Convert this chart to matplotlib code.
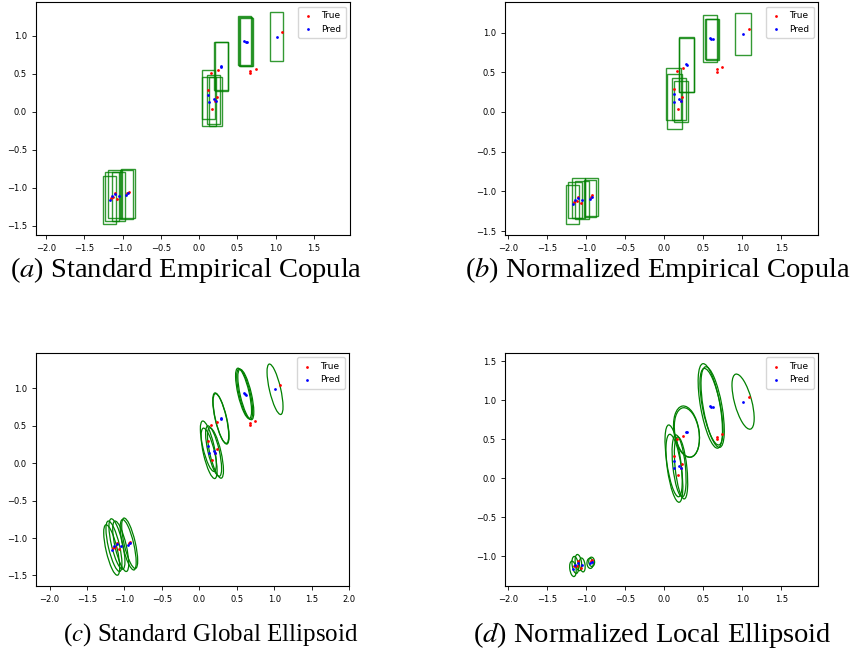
import matplotlib
matplotlib.use('Agg')
import matplotlib.pyplot as plt
from matplotlib.patches import Rectangle, Ellipse

plt.rcParams['mathtext.fontset'] = 'stix'

# ground truth and predicted points (same test set in every panel)
true_x = [1.08, 0.74, 0.67, 0.67, 0.24, 0.16, 0.12, 0.17, 0.23, 0.21,
          -1.15, -1.12, -1.10, -1.07, -0.94, -0.92]
true_y = [1.045, 0.565, 0.535, 0.505, 0.55, 0.51, 0.29, 0.04, 0.19, 0.135,
          -1.13, -1.12, -1.065, -1.15, -1.065, -1.05]
pred_x = [1.01, 0.59, 0.62, 0.605, 0.285, 0.29, 0.12, 0.13, 0.19, 0.215,
          -1.17, -1.14, -1.10, -1.05, -0.95, -0.93]
pred_y = [0.985, 0.93, 0.915, 0.92, 0.60, 0.59, 0.225, 0.13, 0.16, 0.135,
          -1.16, -1.11, -1.08, -1.11, -1.09, -1.07]

# (a) standard copula: one box size for all
box_w_a = 0.175
box_h_a = 0.64

# (b) normalized copula: box size per prediction
box_w_b = [0.20, 0.183, 0.17, 0.162, 0.20, 0.19, 0.19, 0.19, 0.17, 0.17,
           0.166, 0.18, 0.175, 0.183, 0.162, 0.16]
box_h_b = [0.53, 0.59, 0.51, 0.51, 0.70, 0.68, 0.66, 0.69, 0.53, 0.51,
           0.49, 0.46, 0.50, 0.47, 0.47, 0.47]

# (c) standard global ellipsoid
ell_w_c = 0.15
ell_h_c = 0.69
ell_ang_c = 13

# (d) normalized local ellipsoid
ell_w_d = [0.22, 0.25, 0.24, 0.23, 0.32, 0.31, 0.18, 0.18, 0.16, 0.15,
           0.08, 0.08, 0.08, 0.07, 0.08, 0.075]
ell_h_d = [0.73, 1.10, 1.05, 1.00, 0.665, 0.64, 0.93, 0.88, 0.80, 0.80,
           0.20, 0.22, 0.21, 0.18, 0.13, 0.12]
ell_ang_d = [15, 10, 10, 11, 9, 9, 8, 8, 6, 6, 8, 8, 8, 8, 5, 5]

captions = [r'($a$) Standard Empirical Copula',
            r'($b$) Normalized Empirical Copula',
            r'($c$) Standard Global Ellipsoid',
            r'($d$) Normalized Local Ellipsoid']
limits = [((-2.13, 1.97), (-1.62, 1.44)),
          ((-2.04, 1.97), (-1.55, 1.385)),
          ((-2.18, 2.0), (-1.64, 1.47)),
          ((-2.04, 1.97), (-1.38, 1.61))]


def draw_points(ax):
    ax.scatter(true_x, true_y, s=4, c='red', marker='o', linewidths=0, label='True')
    ax.scatter(pred_x, pred_y, s=4, c='blue', marker='o', linewidths=0, label='Pred')
    ax.legend(loc='upper right', fontsize=6.5, handlelength=1.2, borderpad=0.5)


fig = plt.figure(figsize=(8.58, 6.64), dpi=100)
axes = [fig.add_axes([0.042, 0.646, 0.366, 0.351]),
        fig.add_axes([0.5886, 0.646, 0.3648, 0.351]),
        fig.add_axes([0.042, 0.1175, 0.365, 0.351]),
        fig.add_axes([0.5886, 0.1175, 0.3648, 0.351])]

for i in range(len(pred_x)):
    axes[0].add_patch(Rectangle((pred_x[i] - box_w_a / 2, pred_y[i] - box_h_a / 2),
                                box_w_a, box_h_a, fill=False, edgecolor='green',
                                linewidth=1.0, alpha=0.8))
    axes[1].add_patch(Rectangle((pred_x[i] - box_w_b[i] / 2, pred_y[i] - box_h_b[i] / 2),
                                box_w_b[i], box_h_b[i], fill=False, edgecolor='green',
                                linewidth=1.0, alpha=0.8))
    axes[2].add_patch(Ellipse((pred_x[i], pred_y[i]), ell_w_c, ell_h_c, angle=ell_ang_c,
                              fill=False, edgecolor='green', linewidth=0.9))
    axes[3].add_patch(Ellipse((pred_x[i], pred_y[i]), ell_w_d[i], ell_h_d[i],
                              angle=ell_ang_d[i], fill=False, edgecolor='green',
                              linewidth=0.9))

for ax, (xl, yl) in zip(axes, limits):
    draw_points(ax)
    ax.set_xlim(*xl)
    ax.set_ylim(*yl)
    ax.tick_params(labelsize=6, length=3, width=0.6)
    for sp in ax.spines.values():
        sp.set_linewidth(0.8)

# captions under each panel
fig.text(0.217, 0.5935, captions[0], ha='center', va='center',
         family='Liberation Serif', fontsize=20.5)
fig.text(0.766, 0.5935, captions[1], ha='center', va='center',
         family='Liberation Serif', fontsize=20.5)
fig.text(0.245, 0.044, captions[2], ha='center', va='center',
         family='Liberation Serif', fontsize=18)
fig.text(0.760, 0.044, captions[3], ha='center', va='center',
         family='Liberation Serif', fontsize=20.5)

fig.savefig('out.png', dpi=100)
